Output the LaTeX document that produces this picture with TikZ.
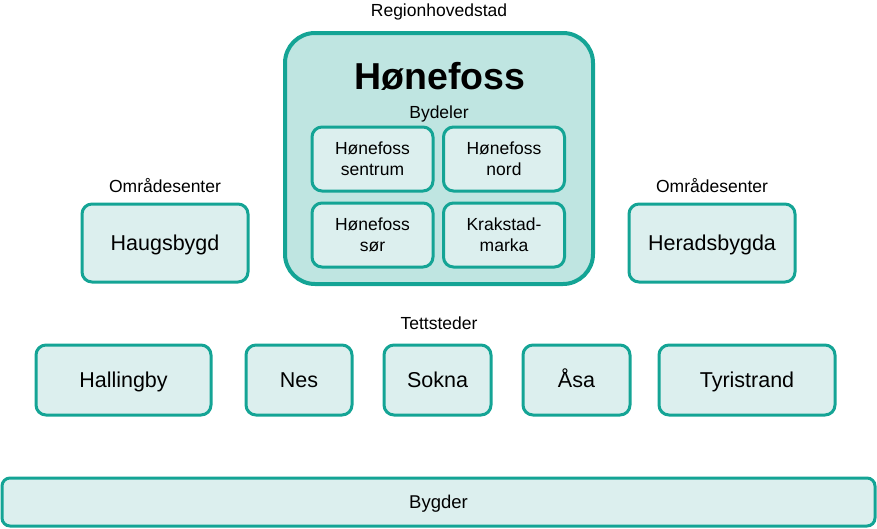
\documentclass[tikz,border=0pt]{standalone}
\usepackage{fontspec}
\setmainfont{Liberation Sans}
\definecolor{teal1}{HTML}{14A495}
\definecolor{fillouter}{HTML}{BFE5E1}
\definecolor{fillinner}{HTML}{DCEFEE}
\begin{document}
\begin{tikzpicture}[x=1pt,y=-1pt,
  bigbox/.style={draw=teal1,fill=fillouter,line width=4pt,rounded corners=30pt,inner sep=0pt},
  subbox/.style={draw=teal1,fill=fillinner,line width=3pt,rounded corners=10pt,inner sep=0pt,align=center,font=\fontsize{17.5}{21}\selectfont},
  placebox/.style={draw=teal1,fill=fillinner,line width=3pt,rounded corners=10pt,inner sep=0pt,text height=19pt,text depth=4.5pt,font=\fontsize{21.5}{25}\selectfont},
  lbl/.style={inner sep=0pt,text height=12.6pt,text depth=3.7pt,font=\fontsize{17.5}{21}\selectfont}]
\useasboundingbox (0,0) rectangle (877,528);
% Regional capital
\node[lbl] (reglbl) at (439,12) {Regionhovedstad};
\node[bigbox,minimum width=308pt,minimum height=251pt] (big) at (439,158.5) {};
\node[inner sep=0pt,font=\fontsize{37.5}{40}\selectfont\bfseries] (title) at (440,76) {Hønefoss};
\node[lbl] (bydeler) at (439,114) {Bydeler};
\node[subbox,minimum width=121pt,minimum height=64pt] (sentrum) at (372.5,159) {Hønefoss\\sentrum};
\node[subbox,minimum width=121pt,minimum height=64pt] (nord) at (504,159) {Hønefoss\\nord};
\node[subbox,minimum width=121pt,minimum height=64pt] (sor) at (372.5,235) {Hønefoss\\sør};
\node[subbox,minimum width=121pt,minimum height=64pt] (krak) at (504,235) {Krakstad-\\marka};
% Area centres
\node[lbl] (omr1) at (165,188) {Områdesenter};
\node[placebox,minimum width=166pt,minimum height=78pt] (haugs) at (165,243) {Haugsbygd};
\node[lbl] (omr2) at (712,188) {Områdesenter};
\node[placebox,minimum width=166pt,minimum height=78pt] (herads) at (712,243) {Heradsbygda};
% Settlements
\node[lbl] (tett) at (439,325) {Tettsteder};
\node[placebox,minimum width=175pt,minimum height=70pt] (halling) at (123.5,380) {Hallingby};
\node[placebox,minimum width=106pt,minimum height=70pt] (nesbox) at (299,380) {Nes};
\node[placebox,minimum width=107pt,minimum height=70pt] (sokna) at (437.5,380) {Sokna};
\node[placebox,minimum width=107pt,minimum height=70pt] (aasa) at (576.5,380) {Åsa};
\node[placebox,minimum width=176pt,minimum height=70pt] (tyri) at (747,380) {Tyristrand};
% Rural
\node[placebox,rounded corners=8pt,minimum width=873pt,minimum height=48pt,text height=16.5pt,text depth=3.9pt,font=\fontsize{18.5}{22}\selectfont] (bygder) at (438.5,502) {Bygder};
\end{tikzpicture}
\end{document}
